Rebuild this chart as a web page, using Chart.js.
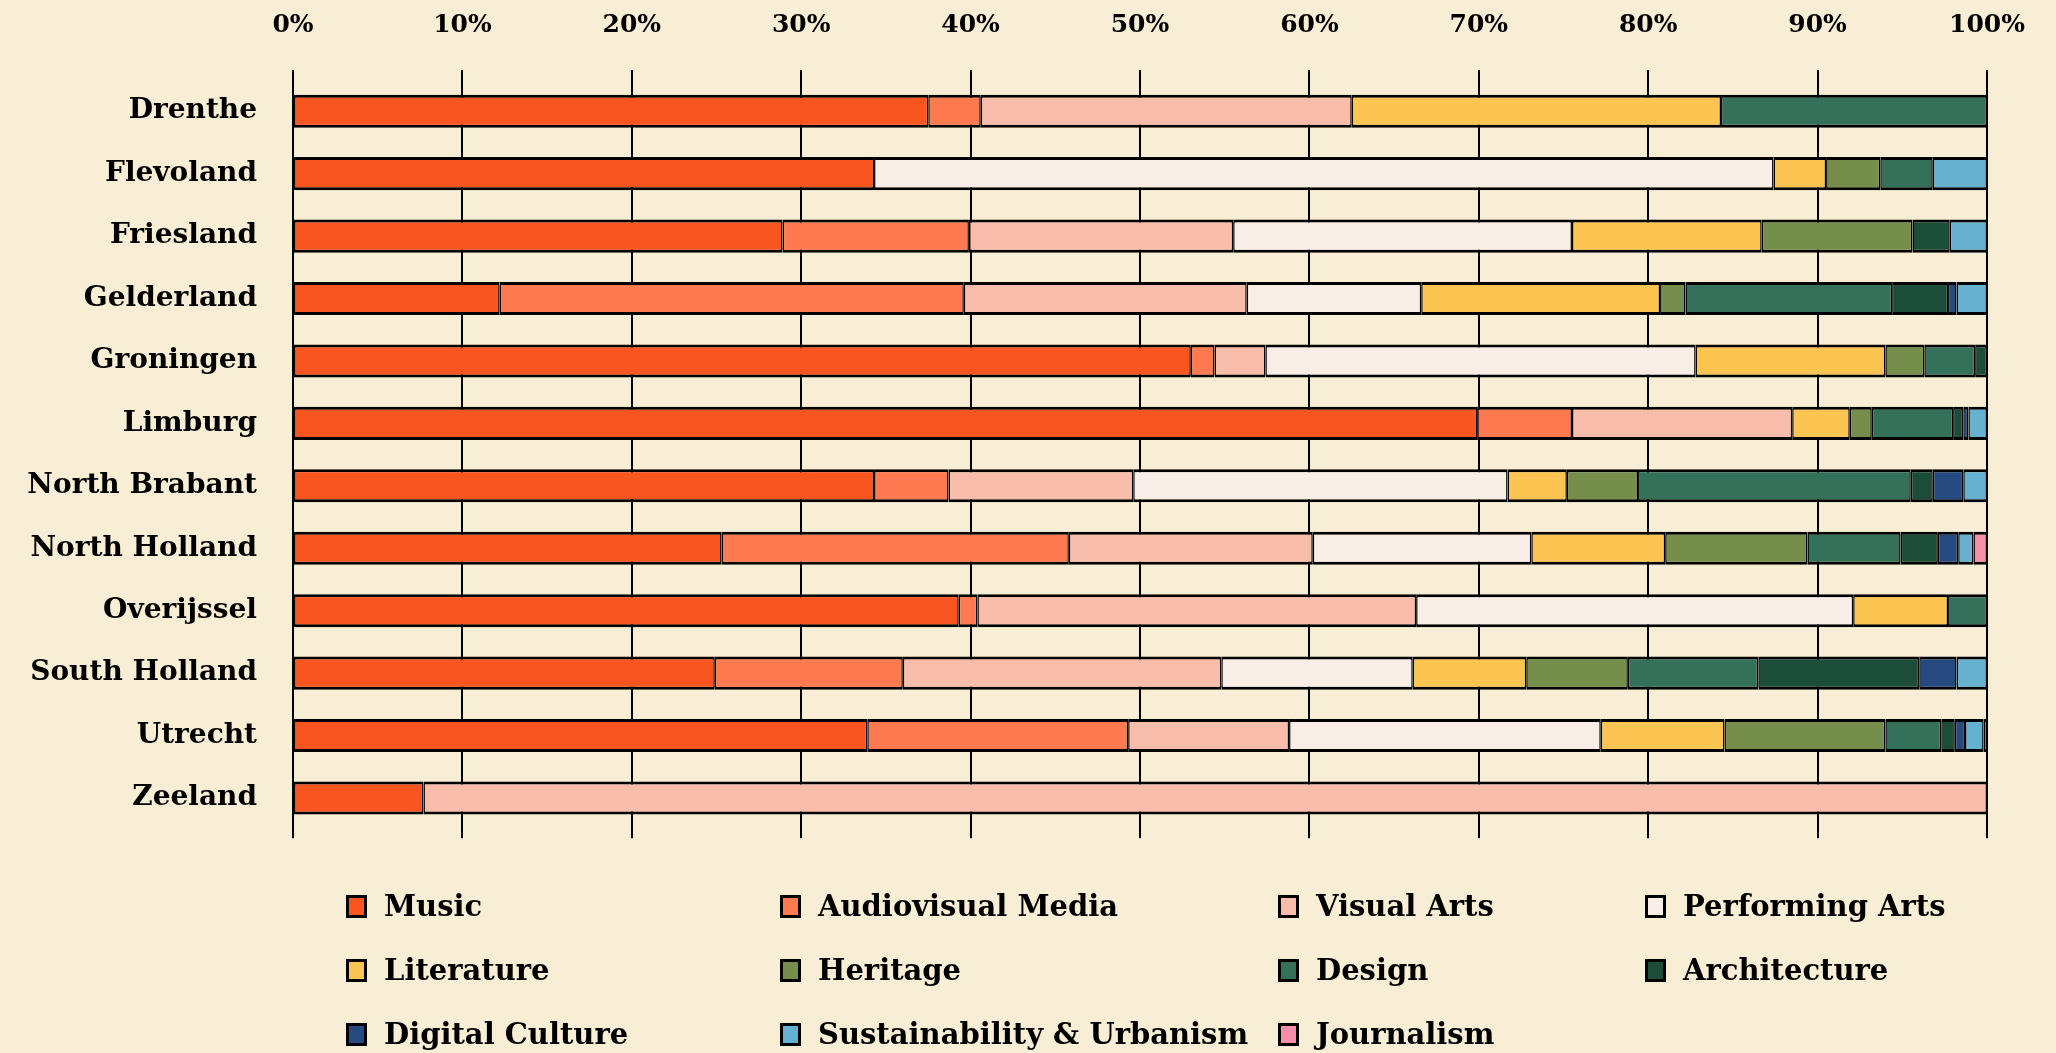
<!DOCTYPE html>
<html>
<head>
<meta charset="utf-8">
<script src="https://cdn.jsdelivr.net/npm/chart.js@4/dist/chart.umd.min.js"></script>
<style>
  html, body { margin: 0; padding: 0; background: #f8eed5; }
  #wrap { position: relative; width: 2056px; height: 1053px; background: #f8eed5; }
  #box { position: absolute; left: 0; top: 0; width: 2056px; height: 882px; }
  #legend {
    position: absolute; left: 346px; top: 874px;
    display: grid; grid-template-columns: 434px 498px 367px 360px;
    grid-auto-rows: 64px;
    font-family: "DejaVu Serif", serif; font-weight: bold; font-size: 29px; color: #000;
  }
  .item { display: flex; align-items: center; white-space: nowrap; }
  .swatch { width: 15px; height: 17px; border: 3px solid #000; margin-right: 17px; }
</style>
</head>
<body>
<div id="wrap">
  <div id="box"><canvas id="chart"></canvas></div>
  <div id="legend"></div>
</div>
<script>
const provinces = ['Drenthe', 'Flevoland', 'Friesland', 'Gelderland', 'Groningen', 'Limburg',
  'North Brabant', 'North Holland', 'Overijssel', 'South Holland', 'Utrecht', 'Zeeland']

const tickLabels = ['0%', '10%', '20%', '30%', '40%', '50%', '60%', '70%', '80%', '90%', '100%']

// share per discipline (%), one value per province in the order above
const music        = [37.5, 34.3, 28.9, 12.2, 53.0, 69.9, 34.3, 25.3, 39.3, 24.9, 33.9, 7.7]
const audiovisual  = [3.1, 0, 11.0, 27.4, 1.4, 5.6, 4.4, 20.5, 1.1, 11.1, 15.4, 0]
const visualArts   = [21.9, 0, 15.6, 16.7, 3.0, 13.0, 10.9, 14.4, 25.9, 18.8, 9.5, 92.3]
const performing   = [0, 53.1, 20.0, 10.3, 25.4, 0, 22.1, 12.9, 25.8, 11.3, 18.4, 0]
const literature   = [21.8, 3.1, 11.2, 14.1, 11.2, 3.4, 3.5, 7.9, 5.6, 6.7, 7.3, 0]
const heritage     = [0, 3.2, 8.9, 1.5, 2.3, 1.3, 4.2, 8.4, 0, 6.0, 9.5, 0]
const design       = [15.7, 3.1, 0, 12.2, 3.0, 4.8, 16.1, 5.5, 2.3, 7.7, 3.3, 0]
const architecture = [0, 0, 2.2, 3.3, 0.7, 0.6, 1.3, 2.2, 0, 9.5, 0.8, 0]
const digital      = [0, 0, 0, 0.5, 0, 0.3, 1.8, 1.2, 0, 2.2, 0.6, 0]
const sustainable  = [0, 3.2, 2.2, 1.8, 0, 1.1, 1.4, 0.9, 0, 1.8, 1.1, 0]
const journalism   = [0, 0, 0, 0, 0, 0, 0, 0.8, 0, 0, 0.2, 0]

const series = [
  { label: 'Music', data: music, color: '#f85520' },
  { label: 'Audiovisual Media', data: audiovisual, color: '#ff7a50' },
  { label: 'Visual Arts', data: visualArts, color: '#f8bcaa' },
  { label: 'Performing Arts', data: performing, color: '#f8ede7' },
  { label: 'Literature', data: literature, color: '#fcc451' },
  { label: 'Heritage', data: heritage, color: '#758e4c' },
  { label: 'Design', data: design, color: '#35705a' },
  { label: 'Architecture', data: architecture, color: '#1b4d3a' },
  { label: 'Digital Culture', data: digital, color: '#244a7f' },
  { label: 'Sustainability & Urbanism', data: sustainable, color: '#67b1d0' },
  { label: 'Journalism', data: journalism, color: '#f48eaa' }
]

const labelFont = { family: 'DejaVu Serif', weight: 'bold', size: 28 }

const ctx = document.getElementById('chart').getContext('2d')
const chart = new Chart(ctx, {
  type: 'bar',
  data: {
    labels: provinces,
    datasets: series.map(s => ({
      label: s.label,
      data: s.data,
      backgroundColor: s.color,
      borderColor: '#000',
      borderWidth: { top: 3, bottom: 3, left: 1.5, right: 1.5 },
      borderSkipped: false,
      categoryPercentage: 1,
      barPercentage: 0.53
    }))
  },
  options: {
    indexAxis: 'y',
    responsive: true,
    maintainAspectRatio: false,
    animation: false,
    layout: { padding: { top: 10, right: 69, bottom: 13, left: 0 } },
    plugins: {
      legend: { display: false },
      tooltip: { enabled: false }
    },
    scales: {
      x: {
        position: 'top',
        stacked: true,
        min: 0,
        max: 100,
        border: { display: false },
        grid: { color: '#000', lineWidth: 2, tickLength: 10, tickColor: '#000' },
        ticks: {
          stepSize: 10,
          padding: 30,
          color: '#000',
          font: { family: 'DejaVu Serif', weight: 'bold', size: 25 },
          callback: (v, i) => tickLabels[i]
        },
        afterFit: (scale) => { scale.height = 70 }
      },
      x2: {
        position: 'bottom',
        min: 0,
        max: 100,
        border: { display: false },
        grid: { drawOnChartArea: false, color: '#000', lineWidth: 2, tickLength: 9 },
        ticks: { display: false, stepSize: 10 },
        afterFit: (scale) => { scale.height = 9 }
      },
      y: {
        stacked: true,
        border: { display: false },
        grid: { display: false, drawTicks: false },
        ticks: { color: '#000', padding: 36, font: labelFont },
        afterFit: (scale) => { scale.width = 293 }
      }
    }
  }
})

// legend laid out in four columns like the original
const legend = document.getElementById('legend')
chart.data.datasets.forEach(ds => {
  const item = document.createElement('div')
  item.className = 'item'
  const sw = document.createElement('span')
  sw.className = 'swatch'
  sw.style.background = ds.backgroundColor
  const txt = document.createElement('span')
  txt.textContent = ds.label
  item.appendChild(sw)
  item.appendChild(txt)
  legend.appendChild(item)
})
</script>
</body>
</html>
